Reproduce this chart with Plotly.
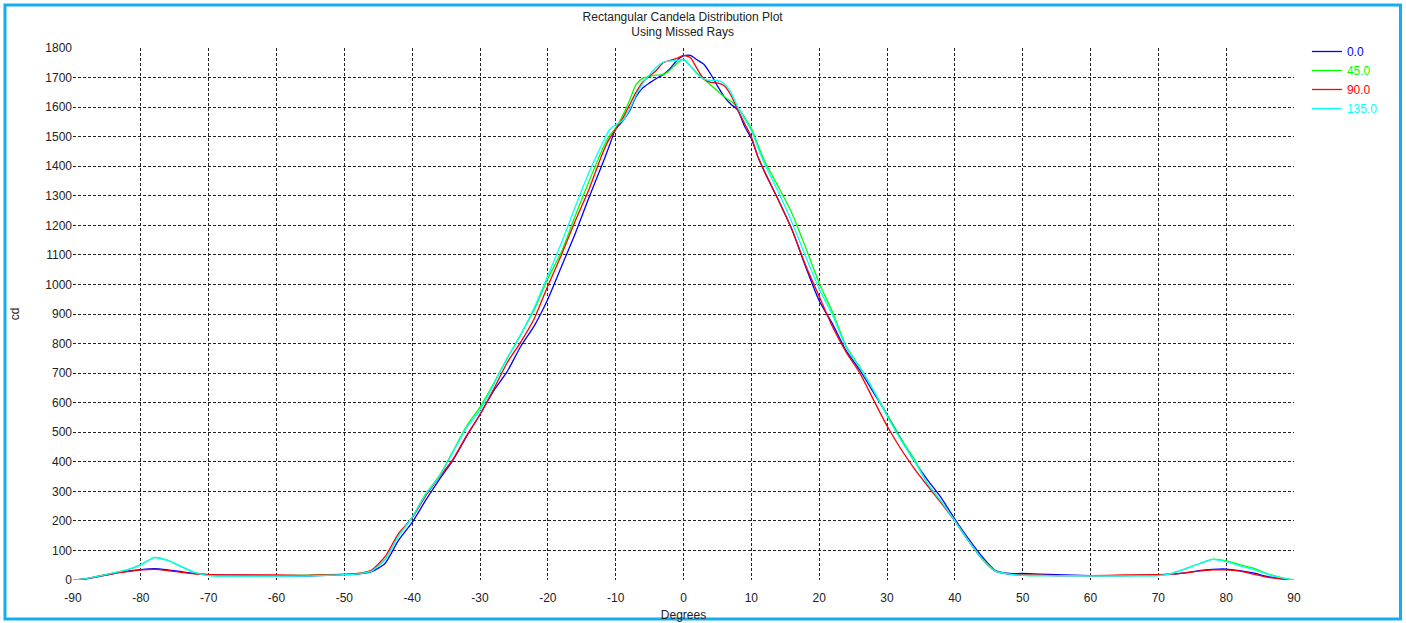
import plotly.graph_objects as go

# Angles (degrees)
angles = [-90, -88, -86, -84, -82, -80, -78, -76, -74, -72, -70, -65, -60, -55, -50,
          -48, -46, -44, -42, -40, -38, -36, -34, -32, -30, -28, -26, -24, -22, -20,
          -18, -16, -14, -12, -11, -10, -9, -8, -7, -6, -5, -4, -3, -2, -1, 0,
          1, 2, 3, 4, 5, 6, 7, 8, 9, 10, 11, 12, 14, 16, 18, 20, 22, 24, 26, 28, 30,
          32, 34, 36, 38, 40, 42, 44, 46, 48, 50, 55, 60, 65, 70, 72, 74, 76, 78, 80,
          82, 84, 86, 88, 90]

cd_0 = [0, 4, 12, 22, 30, 35, 38, 34, 28, 22, 18, 16, 15, 14, 18,
        20, 28, 56, 135, 195, 270, 340, 405, 485, 560, 640, 705, 790, 860, 950,
        1060, 1170, 1290, 1405, 1465, 1525, 1552, 1585, 1635, 1665, 1682, 1697, 1710, 1730, 1757, 1773,
        1775, 1760, 1745, 1712, 1672, 1635, 1610, 1590, 1535, 1494, 1430, 1378, 1285, 1185, 1060, 945, 865, 775, 710, 635, 560,
        480, 404, 338, 278, 206, 140, 80, 32, 22, 22, 18, 15, 15, 18, 20, 24, 32, 36, 37,
        32, 24, 12, 5, 0]

cd_45 = [0, 5, 14, 24, 34, 52, 76, 66, 45, 25, 16, 14, 15, 16, 20,
         22, 32, 70, 150, 212, 292, 352, 435, 520, 585, 665, 750, 830, 915, 1020,
         1110, 1230, 1345, 1455, 1500, 1530, 1570, 1620, 1676, 1698, 1704, 1708, 1710, 1725, 1748, 1762,
         1740, 1715, 1695, 1675, 1655, 1635, 1620, 1600, 1565, 1528, 1470, 1415, 1330, 1240, 1125, 1005, 905, 790, 720, 642, 560,
         480, 410, 325, 265, 200, 133, 72, 30, 20, 16, 15, 15, 15, 16, 22, 38, 55, 70, 65,
         52, 40, 22, 9, 0]

cd_90 = [0, 5, 14, 22, 28, 34, 36, 32, 26, 21, 18, 17, 17, 16, 19,
         22, 34, 79, 158, 210, 285, 348, 408, 488, 560, 645, 735, 805, 885, 995,
         1100, 1213, 1318, 1440, 1490, 1525, 1560, 1605, 1650, 1685, 1705, 1725, 1750, 1758, 1765, 1775,
         1768, 1730, 1695, 1684, 1682, 1672, 1640, 1590, 1545, 1500, 1430, 1380, 1285, 1185, 1065, 960, 855, 770, 700, 610, 522,
         445, 378, 318, 260, 200, 133, 72, 30, 20, 18, 15, 15, 17, 18, 20, 24, 30, 34, 34,
         30, 20, 10, 4, 0]

cd_135 = [0, 5, 14, 24, 34, 52, 76, 66, 45, 25, 15, 13, 13, 14, 18,
          21, 30, 68, 150, 212, 290, 350, 432, 515, 575, 660, 750, 830, 922, 1030,
          1140, 1260, 1375, 1475, 1520, 1540, 1554, 1590, 1640, 1680, 1710, 1735, 1752, 1756, 1758, 1760,
          1740, 1712, 1695, 1690, 1690, 1680, 1650, 1600, 1560, 1520, 1460, 1405, 1312, 1210, 1095, 985, 895, 785, 718, 642, 555,
          475, 404, 325, 265, 200, 133, 72, 30, 20, 16, 15, 14, 14, 15, 22, 38, 55, 70, 62,
          48, 36, 20, 8, 0]

series_names = ["0.0", "45.0", "90.0", "135.0"]
series_values = [cd_0, cd_45, cd_90, cd_135]
series_colors = ["#0000ff", "#00ff00", "#ff0000", "#00ffff"]

x_ticks = list(range(-90, 91, 10))
y_ticks = list(range(0, 1801, 100))

FONT = "Liberation Sans, Arial"
TXT = "#222222"

fig = go.Figure()
for name, vals, col in zip(series_names, series_values, series_colors):
    fig.add_trace(go.Scatter(
        x=angles, y=vals, mode="lines",
        name=f"<span style='color:{col}'>{name}</span>",
        line=dict(color=col, width=1.3, shape="spline", smoothing=0.6),
    ))

grid_style = dict(showgrid=True, gridcolor="#222222", griddash="3px,2px", gridwidth=1,
                  zeroline=False, showline=False, ticks="",
                  tickfont=dict(family=FONT, size=12, color=TXT))

fig.update_xaxes(range=[-90, 90], tickvals=x_ticks, ticktext=[str(v) for v in x_ticks],
                 ticklabelstandoff=9,
                 title=dict(text="Degrees", standoff=6, font=dict(family=FONT, size=12, color=TXT)),
                 **grid_style)
fig.update_yaxes(range=[0, 1800], tickvals=y_ticks, ticktext=[str(v) for v in y_ticks],
                 title=dict(text="cd", standoff=23, font=dict(family=FONT, size=12, color=TXT)),
                 **grid_style)

# outer frame
fig.add_shape(type="rect", xref="paper", yref="paper",
              x0=-0.0557, x1=1.0872, y0=-0.0733, y1=1.0808,
              line=dict(color="#12aef0", width=3), fillcolor="rgba(0,0,0,0)", layer="below")

fig.update_layout(
    width=1406, height=623,
    margin=dict(l=73, r=112, t=48, b=43, autoexpand=False),
    paper_bgcolor="white", plot_bgcolor="white",
    title=dict(text="Rectangular Candela Distribution Plot<br>Using Missed Rays",
               x=0.4855, xanchor="center", y=0.967, yanchor="top",
               font=dict(family=FONT, size=12, color=TXT)),
    legend=dict(x=1.0106, y=1.0207, xanchor="left", yanchor="top",
                font=dict(family=FONT, size=12),
                bgcolor="rgba(0,0,0,0)", itemwidth=30, tracegroupgap=0),
    showlegend=True,
)

fig.write_html("out.html", config={"displayModeBar": False},
               post_script="document.body.style.margin='0px';")
